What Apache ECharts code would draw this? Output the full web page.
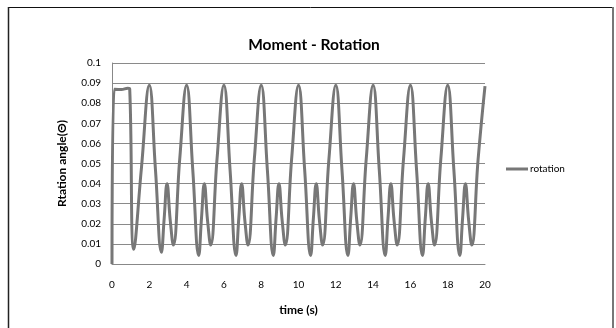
<!DOCTYPE html>
<html>
<head>
<meta charset="utf-8">
<script src="https://cdn.jsdelivr.net/npm/echarts@6/dist/echarts.min.js"></script>
<style>
html,body{margin:0;padding:0;background:#fff;}
#c{width:616px;height:328px;}
</style>
</head>
<body>
<div id="c"></div>
<script>
// Data
const times = [
  0, 0.12, 0.5, 0.85, 0.95, 1.17, 1.58, 2,
  2.33, 2.65, 2.8, 2.95, 3.12, 3.29, 3.63, 4,
  4.33, 4.65, 4.8, 4.95, 5.12, 5.29, 5.63, 6,
  6.33, 6.65, 6.8, 6.95, 7.12, 7.29, 7.63, 8,
  8.33, 8.65, 8.8, 8.95, 9.12, 9.29, 9.63, 10,
  10.33, 10.65, 10.8, 10.95, 11.12, 11.29, 11.63, 12,
  12.33, 12.65, 12.8, 12.95, 13.12, 13.29, 13.63, 14,
  14.33, 14.65, 14.8, 14.95, 15.12, 15.29, 15.63, 16,
  16.33, 16.65, 16.8, 16.95, 17.12, 17.29, 17.63, 18,
  18.33, 18.65, 18.8, 18.95, 19.12, 19.29, 19.63, 20
];
const rotation = [
  0, 0.087, 0.0868, 0.0874, 0.087, 0.0073, 0.048, 0.0889,
  0.047, 0.0058, 0.023, 0.0399, 0.022, 0.0094, 0.052, 0.0889,
  0.047, 0.0042, 0.023, 0.0399, 0.022, 0.0094, 0.052, 0.0889,
  0.047, 0.0042, 0.023, 0.0399, 0.022, 0.0094, 0.052, 0.0889,
  0.047, 0.0042, 0.023, 0.0399, 0.022, 0.0094, 0.052, 0.0889,
  0.047, 0.0042, 0.023, 0.0399, 0.022, 0.0094, 0.052, 0.0889,
  0.047, 0.0042, 0.023, 0.0399, 0.022, 0.0094, 0.052, 0.0889,
  0.047, 0.0042, 0.023, 0.0399, 0.022, 0.0094, 0.052, 0.0889,
  0.047, 0.0042, 0.023, 0.0399, 0.022, 0.0094, 0.052, 0.0889,
  0.047, 0.0042, 0.023, 0.0399, 0.022, 0.0094, 0.052, 0.0885
];
const seriesName = 'rotation';
const chartTitle = 'Moment - Rotation';
const xTitle = 'time (s)';
const yTitle = 'Rtation angle(\u0398)';

const chart = echarts.init(document.getElementById('c'), null, {renderer: 'canvas'});
const font = 'Lato, "Open Sans", sans-serif';
chart.setOption({
  animation: false,
  backgroundColor: '#fff',
  textStyle: {fontFamily: font},
  title: {
    text: chartTitle,
    left: 309, top: 32, textAlign: 'center',
    textStyle: {fontSize: 15.5, fontWeight: 'bold', color: '#000', fontFamily: font}
  },
  legend: {
    data: [seriesName],
    left: 501, top: 159,
    itemWidth: 22, itemHeight: 3, itemGap: 2,
    icon: 'rect',
    textStyle: {fontSize: 10, color: '#000', padding: [0,0,0,-3], fontFamily: font}
  },
  grid: {left: 112, right: 131, top: 63, bottom: 64},
  xAxis: {
    type: 'value', min: 0, max: 20, interval: 2,
    name: xTitle, nameLocation: 'middle', nameGap: 40,
    nameTextStyle: {fontSize: 12, fontWeight: 'bold', color: '#000', fontFamily: font},
    axisLine: {show: true, lineStyle: {color: '#888', width: 1}},
    axisTick: {show: false},
    splitLine: {show: false},
    axisLabel: {fontSize: 10, color: '#000', margin: 16, fontFamily: font}
  },
  yAxis: {
    type: 'value', min: 0, max: 0.1, interval: 0.01,
    name: yTitle, nameLocation: 'middle', nameGap: 44,
    nameTextStyle: {fontSize: 12, fontWeight: 'bold', color: '#000', fontFamily: font},
    axisLine: {show: true, lineStyle: {color: '#888', width: 1}},
    axisTick: {show: false},
    splitLine: {show: true, lineStyle: {color: '#8a8a8a', width: 1}},
    axisLabel: {fontSize: 10, color: '#000', margin: 11, fontFamily: font,
      formatter: v => String(Math.round(v*100)/100)}
  },
  series: [{
    name: seriesName,
    type: 'line',
    data: times.map((t, i) => [t, rotation[i]]),
    smooth: 0.45,
    showSymbol: false,
    symbol: 'none',
    lineStyle: {color: '#777', width: 3},
    itemStyle: {color: '#777'}
  }],
  graphic: [
    {type: 'line', shape: {x1: 8, y1: 7.5, x2: 613, y2: 7.5}, style: {stroke: '#111', lineWidth: 1}},
    {type: 'line', shape: {x1: 8.5, y1: 7, x2: 8.5, y2: 328}, style: {stroke: '#222', lineWidth: 1.5}},
    {type: 'line', shape: {x1: 613, y1: 7, x2: 613, y2: 328}, style: {stroke: '#777', lineWidth: 2}}
  ]
});
</script>
</body>
</html>
